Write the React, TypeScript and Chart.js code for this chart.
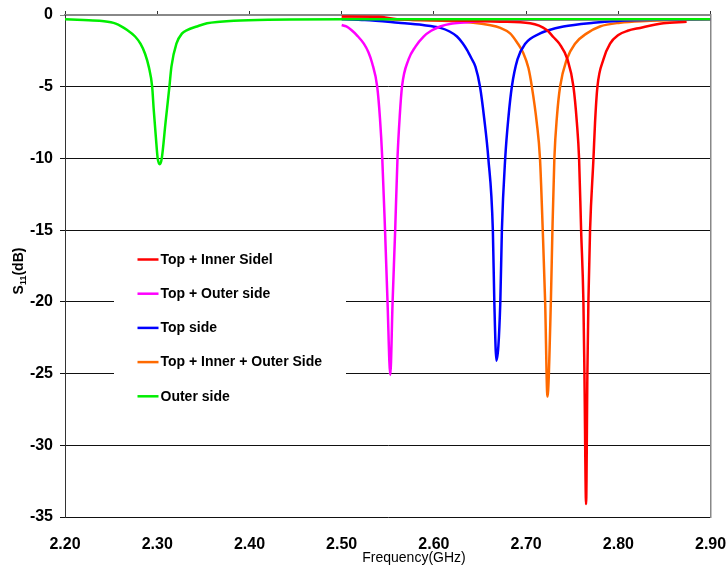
import React, { useEffect, useRef } from "react";
import { Chart, registerables } from "chart.js";

Chart.register(...registerables);

// ---------- data ----------
const seriesLabels = [
  "Top + Inner Sidel",
  "Top + Outer side",
  "Top side",
  "Top + Inner + Outer Side",
  "Outer side",
];
const seriesColors = ["#ff0000", "#ff00ff", "#0000ff", "#ff6a00", "#00ee00"];

const redFreq = [2.5, 2.54, 2.56, 2.62, 2.672, 2.7043, 2.7224, 2.7297, 2.736, 2.7448, 2.7513, 2.755, 2.7574, 2.7596, 2.7621, 2.7632, 2.765, 2.7664, 2.7675, 2.7693, 2.773, 2.7747, 2.7773, 2.7838, 2.791, 2.8, 2.81, 2.8235, 2.8488, 2.874];
const redS11 = [-0.1, -0.12, -0.3, -0.38, -0.47, -0.58, -1.05, -1.55, -2.0, -3.1, -5.0, -7.5, -10.0, -15.0, -20.0, -25.0, -34.1, -25.0, -20.0, -15.0, -10.0, -7.5, -5.0, -3.1, -2.0, -1.4, -1.1, -0.9, -0.58, -0.47];

const magentaFreq = [2.5, 2.505, 2.5105, 2.517, 2.524, 2.529, 2.533, 2.5385, 2.5415, 2.544, 2.547, 2.5497, 2.5527, 2.5552, 2.558, 2.5605, 2.563, 2.5654, 2.5725, 2.58, 2.5888, 2.597, 2.6068, 2.62, 2.6358, 2.66, 2.7, 2.8, 2.9];
const magentaS11 = [-0.7, -0.8, -1.05, -1.45, -2.0, -2.6, -3.35, -5.0, -7.2, -10.0, -15.0, -20.0, -25.1, -20.0, -15.0, -10.0, -7.0, -5.0, -3.1, -2.2, -1.5, -1.1, -0.8, -0.6, -0.5, -0.4, -0.33, -0.3, -0.3];

const blueFreq = [2.5, 2.525, 2.5614, 2.588, 2.607, 2.617, 2.625, 2.631, 2.636, 2.6405, 2.645, 2.65, 2.6545, 2.659, 2.6639, 2.6655, 2.6678, 2.672, 2.6737, 2.6773, 2.681, 2.6845, 2.6906, 2.699, 2.7152, 2.7225, 2.7404, 2.773, 2.798, 2.85, 2.9];
const blueS11 = [-0.3, -0.35, -0.54, -0.7, -0.9, -1.15, -1.5, -1.95, -2.45, -3.0, -3.6, -5.0, -7.2, -10.0, -15.0, -20.0, -24.1, -20.0, -15.0, -10.0, -7.0, -5.0, -3.1, -2.0, -1.28, -1.1, -0.8, -0.54, -0.42, -0.33, -0.3];

const orangeFreq = [2.5, 2.585, 2.6426, 2.66, 2.672, 2.6826, 2.69, 2.697, 2.7025, 2.7062, 2.7115, 2.715, 2.718, 2.7206, 2.7231, 2.7268, 2.7285, 2.7306, 2.7335, 2.7368, 2.744, 2.753, 2.7658, 2.78, 2.8018, 2.83, 2.86, 2.9];
const orangeS11 = [-0.25, -0.35, -0.54, -0.7, -0.9, -1.28, -1.9, -2.67, -3.7, -5.0, -7.5, -10.0, -15.0, -20.0, -26.6, -20.0, -15.0, -10.0, -7.0, -5.0, -3.1, -2.0, -1.28, -0.8, -0.54, -0.42, -0.36, -0.3];

const greenFreq = [2.2, 2.22, 2.24, 2.255, 2.2674, 2.276, 2.2818, 2.2868, 2.2908, 2.2945, 2.2962, 2.2985, 2.3005, 2.3027, 2.3049, 2.309, 2.3132, 2.3154, 2.3208, 2.327, 2.3324, 2.343, 2.354, 2.368, 2.383, 2.42, 2.5, 2.6, 2.7, 2.8, 2.9];
const greenS11 = [-0.3, -0.35, -0.42, -0.6, -1.05, -1.5, -2.0, -2.7, -3.6, -5.0, -6.6, -8.5, -10.0, -10.4, -10.0, -7.5, -5.0, -3.6, -2.0, -1.28, -1.05, -0.8, -0.58, -0.47, -0.4, -0.33, -0.3, -0.3, -0.3, -0.3, -0.3];

const seriesFreqs = [redFreq, magentaFreq, blueFreq, orangeFreq, greenFreq];
const seriesValues = [redS11, magentaS11, blueS11, orangeS11, greenS11];

const xMin = 2.2;
const xMax = 2.9;
const xStep = 0.1;
const yMin = -35;
const yMax = 0;
const yStep = 5;

const xTitleText = "Frequency(GHz)";
const yTitleMain = "S";
const yTitleSub = "11";
const yTitleUnit = "(dB)";

// ---------- styling ----------
const FONT = "'Liberation Sans', Arial, sans-serif";

const toPoints = (f: number[], v: number[]) => f.map((x, i) => ({ x, y: v[i] }));

const overlayPlugin = {
  id: "overlay",
  afterDatasetsDraw(chart: any) {
    const { ctx, chartArea: a } = chart;
    ctx.save();
    // legend box (white, masks gridlines)
    const bx = a.left + 49;
    const by = a.top + 230;
    ctx.fillStyle = "#ffffff";
    ctx.fillRect(bx, by, 232, 166);
    chart.data.datasets.forEach((ds: any, i: number) => {
      const cy = a.top + 244.5 + i * 34.2;
      ctx.strokeStyle = ds.borderColor;
      ctx.lineWidth = 2.5;
      ctx.beginPath();
      ctx.moveTo(a.left + 72.5, cy);
      ctx.lineTo(a.left + 93.5, cy);
      ctx.stroke();
      ctx.fillStyle = "#000";
      ctx.font = `bold 14px ${FONT}`;
      ctx.textBaseline = "middle";
      ctx.textAlign = "left";
      ctx.fillText(ds.label, a.left + 95.5, cy + 0.5);
    });
    ctx.restore();
  },
  afterDraw(chart: any) {
    const { ctx } = chart;
    ctx.save();
    // x title
    ctx.fillStyle = "#000";
    ctx.font = `14px ${FONT}`;
    ctx.textAlign = "center";
    ctx.textBaseline = "alphabetic";
    ctx.fillText(xTitleText, 414, 561.5);
    // y title with subscript
    ctx.translate(23, 271);
    ctx.rotate(-Math.PI / 2);
    const mainFont = `bold 14px ${FONT}`;
    const subFont = `bold 9px ${FONT}`;
    ctx.font = mainFont;
    const w1 = ctx.measureText(yTitleMain).width;
    const w3 = ctx.measureText(yTitleUnit).width;
    ctx.font = subFont;
    const w2 = ctx.measureText(yTitleSub).width;
    let x = -(w1 + w2 + w3) / 2;
    ctx.textAlign = "left";
    ctx.font = mainFont;
    ctx.fillText(yTitleMain, x, 0);
    x += w1;
    ctx.font = subFont;
    ctx.fillText(yTitleSub, x, 3);
    x += w2;
    ctx.font = mainFont;
    ctx.fillText(yTitleUnit, x, 0);
    ctx.restore();
  },
};

export default function App() {
  const canvasRef = useRef<HTMLCanvasElement | null>(null);

  useEffect(() => {
    if (!canvasRef.current) return;
    const datasets = seriesLabels.map((label, i) => ({
      label,
      data: toPoints(seriesFreqs[i], seriesValues[i]),
      borderColor: seriesColors[i],
      backgroundColor: seriesColors[i],
      borderWidth: 2.5,
      pointRadius: 0,
      fill: false,
      cubicInterpolationMode: "monotone" as const,
      order: i === 4 ? -1 : i,
    }));

    const chart = new Chart(canvasRef.current, {
      type: "line",
      data: { datasets },
      plugins: [overlayPlugin],
      options: {
        animation: false,
        responsive: false,
        devicePixelRatio: 1,
        layout: { padding: 0 },
        plugins: {
          legend: { display: false },
          tooltip: { enabled: false },
          title: { display: false },
        },
        scales: {
          x: {
            type: "linear",
            position: "bottom",
            min: xMin,
            max: xMax,
            grid: { display: false, drawTicks: false },
            border: { display: false },
            ticks: {
              stepSize: xStep,
              autoSkip: false,
              maxRotation: 0,
              padding: 18,
              color: "#000",
              font: { family: FONT, size: 16, weight: "bold" },
              callback: (v: any) => Number(v).toFixed(2),
            },
            afterFit: (s: any) => {
              s.height = 50;
              s.paddingLeft = 0;
              s.paddingRight = 16.4;
            },
          },
          x2: {
            type: "linear",
            position: "top",
            min: xMin,
            max: xMax,
            grid: {
              display: true,
              drawOnChartArea: false,
              drawTicks: true,
              tickLength: 4,
              color: "#333",
            },
            border: { display: true, color: "#888", width: 2 },
            ticks: { display: false, stepSize: xStep, autoSkip: false },
            afterFit: (s: any) => {
              s.height = 15;
              s.paddingLeft = 0;
              s.paddingRight = 0;
            },
          },
          y: {
            type: "linear",
            position: "left",
            min: yMin,
            max: yMax,
            grid: {
              color: (c: any) => (c.tick && c.tick.value === 0 ? "#888" : "#111"),
              lineWidth: 1,
              drawTicks: true,
              tickLength: 5,
            },
            border: { display: true, color: "#333", width: 1 },
            ticks: {
              stepSize: yStep,
              padding: 7,
              color: "#000",
              font: { family: FONT, size: 16, weight: "bold" },
            },
            afterFit: (s: any) => {
              s.width = 65;
              s.paddingTop = 0;
              s.paddingBottom = 0;
            },
          },
          y2: {
            type: "linear",
            position: "right",
            min: yMin,
            max: yMax,
            grid: { display: false },
            border: { display: true, color: "#888", width: 1.5 },
            ticks: { display: false },
            afterFit: (s: any) => {
              s.width = 0;
              s.paddingTop = 0;
              s.paddingBottom = 0;
            },
          },
        },
      },
    });
    return () => chart.destroy();
  }, []);

  return (
    <div style={{ position: "absolute", left: 0, top: 0, width: 727, height: 567, background: "#fff" }}>
      <canvas ref={canvasRef} width={727} height={567} style={{ display: "block" }} />
    </div>
  );
}
